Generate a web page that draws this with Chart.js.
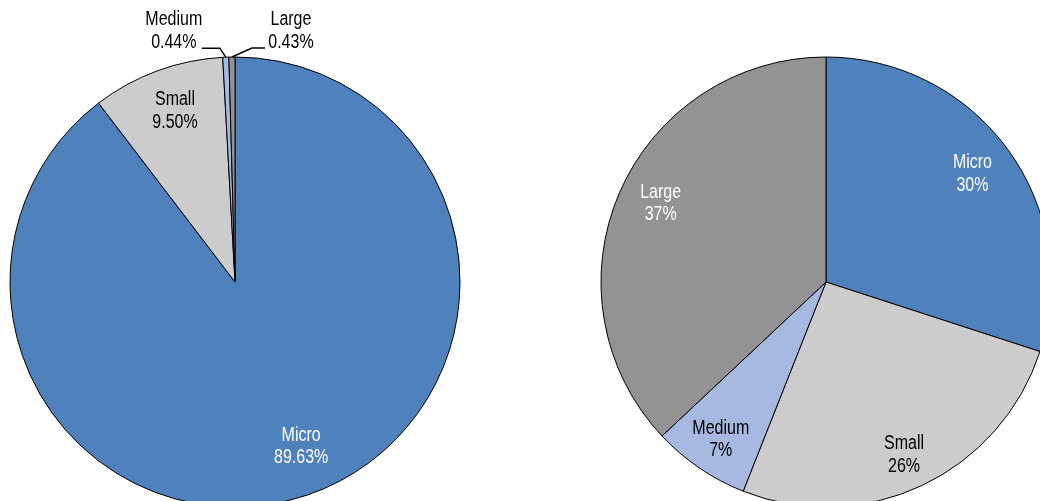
<!DOCTYPE html>
<html>
<head>
<meta charset="utf-8">
<script src="https://cdn.jsdelivr.net/npm/chart.js@4.4.1/dist/chart.umd.min.js"></script>
<style>
  html, body { margin: 0; padding: 0; background: #fff; overflow: hidden; }
  #wrap { position: relative; width: 1040px; height: 501px; overflow: hidden; background: #fff; }
  canvas { position: absolute; top: 0; }
  #c1 { left: 0; }
  #c2 { left: 591px; }
</style>
</head>
<body>
<div id="wrap">
  <canvas id="c1" width="470" height="564"></canvas>
  <canvas id="c2" width="470" height="564"></canvas>
</div>
<script>
// ---- Data ----
const categories = ["Micro", "Small", "Medium", "Large"];
const leftValues = [89.63, 9.50, 0.44, 0.43];
const leftLabels = ["89.63%", "9.50%", "0.44%", "0.43%"];
const rightValues = [30, 26, 7, 37];
const rightLabels = ["30%", "26%", "7%", "37%"];
const colors = ["#4F81BD", "#CCCCCC", "#A6B9E1", "#939393"];
const textColors = ["#FFFFFF", "#000000", "#000000", "#FFFFFF"];

const LINE_GAP = 22.5;

// Pick a narrow font if available, else stretch Liberation Sans vertically
let FONT = "16px 'Liberation Sans', Arial, sans-serif";
let YSCALE = 1.25;
(function () {
  const c = document.createElement('canvas').getContext('2d');
  c.font = "20px monospace";
  const w0 = c.measureText("Small Medium").width;
  c.font = "20px 'Liberation Sans Narrow', monospace";
  const w1 = c.measureText("Small Medium").width;
  if (Math.abs(w0 - w1) > 0.5) {
    FONT = "20px 'Liberation Sans Narrow', 'Arial Narrow', sans-serif";
    YSCALE = 1;
  }
})();

function drawText(ctx, txt, x, y) {
  ctx.save();
  ctx.translate(x, y);
  ctx.scale(1, YSCALE);
  ctx.fillText(txt, 0, 0);
  ctx.restore();
}

// label plugin: inside labels at radius fraction; outside labels with leader lines
const labelPlugin = {
  id: 'sliceLabels',
  afterDatasetsDraw(chart, args, opts) {
    const ctx = chart.ctx;
    const meta = chart.getDatasetMeta(0);
    ctx.save();
    ctx.font = FONT;
    ctx.textAlign = 'center';
    ctx.textBaseline = 'middle';
    meta.data.forEach((arc, i) => {
      const p = arc.getProps(['x', 'y', 'startAngle', 'endAngle', 'outerRadius'], true);
      const mid = (p.startAngle + p.endAngle) / 2;
      const name = categories[i];
      const val = opts.values[i];
      const out = opts.outside && opts.outside[i];
      if (out) {
        const ex = p.x + Math.cos(mid) * p.outerRadius;
        const ey = p.y + Math.sin(mid) * p.outerRadius;
        const elbowX = ex + out.elbowDx;
        const elbowY = ey + out.elbowDy;
        const endX = elbowX + out.hLen;
        ctx.strokeStyle = '#000';
        ctx.lineWidth = 1.5;
        ctx.beginPath();
        ctx.moveTo(ex, ey);
        ctx.lineTo(elbowX, elbowY);
        ctx.lineTo(endX, elbowY);
        ctx.stroke();
        ctx.fillStyle = '#000';
        const tx = endX + out.textDx;
        const ty = elbowY + out.textDy;
        drawText(ctx, name, tx, ty - LINE_GAP);
        drawText(ctx, val, tx, ty);
      } else {
        const f = opts.radiusFactor[i];
        const nudge = opts.nudge[i];
        const cx = p.x + Math.cos(mid) * p.outerRadius * f + nudge[0];
        const cy = p.y + Math.sin(mid) * p.outerRadius * f + nudge[1];
        ctx.fillStyle = textColors[i];
        drawText(ctx, name, cx, cy - LINE_GAP / 2);
        drawText(ctx, val, cx, cy + LINE_GAP / 2);
      }
    });
    ctx.restore();
  }
};

function makePie(id, values, labelOpts) {
  return new Chart(document.getElementById(id), {
    type: 'pie',
    data: {
      labels: categories,
      datasets: [{
        data: values,
        backgroundColor: colors,
        borderColor: '#000000',
        borderWidth: 1,
        hoverBorderWidth: 1,
        borderAlign: 'center'
      }]
    },
    options: {
      responsive: false,
      animation: false,
      radius: 225,
      layout: { padding: 0 },
      events: [],
      plugins: {
        legend: { display: false },
        tooltip: { enabled: false },
        sliceLabels: labelOpts
      }
    },
    plugins: [labelPlugin]
  });
}

makePie('c1', leftValues, {
  values: leftLabels,
  radiusFactor: [0.78, 0.81, 0.8, 0.8],
  nudge: [[10, -2], [3, 0], [0, 0], [0, 0]],
  outside: [null, null,
    { elbowDx: -6, elbowDy: -9, hLen: -18, textDx: -28, textDy: -6 },
    { elbowDx: 20, elbowDy: -9, hLen: 13, textDx: 26, textDy: -6 }]
});

makePie('c2', rightValues, {
  values: rightLabels,
  radiusFactor: [0.81, 0.835, 0.84, 0.82],
  nudge: [[-1, -1], [-2, 3], [1, 1], [4, -5]],
  outside: null
});
</script>
</body>
</html>
